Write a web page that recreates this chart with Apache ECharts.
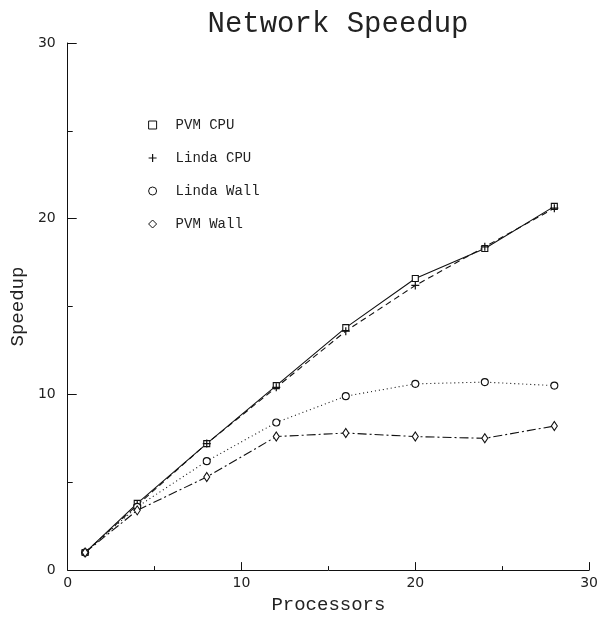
<!DOCTYPE html>
<html lang="en">
<head>
  <meta charset="UTF-8">
  <title>Network Speedup</title>
  <script src="https://cdn.jsdelivr.net/npm/echarts@6/dist/echarts.min.js"></script>
  <style>
    html, body { margin: 0; padding: 0; background: #fff; }
    #chart { width: 601px; height: 619px; }
  </style>
</head>
<body>
  <div id="chart"></div>
  <script>
    // processor counts and measured speedups
    const processors = [1, 4, 8, 12, 16, 20, 24, 28];
    const pvmCpu    = [1.0, 3.8, 7.2, 10.5, 13.8, 16.6, 18.3, 20.7];
    const lindaCpu  = [1.0, 3.7, 7.2, 10.4, 13.6, 16.2, 18.4, 20.6];
    const lindaWall = [1.0, 3.6, 6.2, 8.4, 9.9, 10.6, 10.7, 10.5];
    const pvmWall   = [1.0, 3.4, 5.3, 7.6, 7.8, 7.6, 7.5, 8.2];

    const plusPath = 'path://M0,5L10,5M5,0L5,10';

    const chart = echarts.init(document.getElementById('chart'));

    function pairs(ys) {
      return processors.map((x, i) => [x, ys[i]]);
    }

    function mk(name, ys, symbol, size, lineType) {
      return {
        name: name,
        type: 'line',
        data: pairs(ys),
        symbol: symbol,
        symbolSize: size,
        showSymbol: true,
        lineStyle: { color: '#111', width: 1.1, type: lineType },
        itemStyle: { color: '#fff', borderColor: '#111', borderWidth: 1.1 },
        emphasis: { disabled: true },
        z: 2
      };
    }

    const option = {
      animation: false,
      title: {
        text: 'Network Speedup',
        left: 333,
        top: 5,
        textAlign: 'center',
        textStyle: { fontFamily: 'Liberation Mono', fontWeight: 'normal', fontSize: 29, color: '#222' }
      },
      legend: {
        orient: 'vertical',
        left: 143,
        top: 113,
        itemGap: 19,
        itemWidth: 8,
        itemHeight: 8,
        textStyle: { fontFamily: 'Liberation Mono', fontSize: 14, color: '#222', padding: [0, 0, 0, 14] },
        data: [
          { name: 'PVM CPU', icon: 'rect', itemStyle: { color: '#fff', borderColor: '#111', borderWidth: 1 } },
          { name: 'Linda CPU', icon: plusPath, itemStyle: { color: '#111', borderColor: '#111', borderWidth: 1.2 } },
          { name: 'Linda Wall', icon: 'circle', itemStyle: { color: '#fff', borderColor: '#111', borderWidth: 1 } },
          { name: 'PVM Wall', icon: 'diamond', itemStyle: { color: '#fff', borderColor: '#111', borderWidth: 1 } }
        ]
      },
      grid: { left: 62, right: 8, top: 43, bottom: 43 },
      xAxis: {
        type: 'value',
        min: 0, max: 30, interval: 10,
        name: 'Processors',
        nameLocation: 'middle',
        nameGap: 24,
        nameTextStyle: { fontFamily: 'Liberation Mono', fontSize: 19, color: '#222' },
        axisLine: { lineStyle: { color: '#111', width: 1 } },
        axisTick: { inside: true, length: 8, lineStyle: { color: '#111' } },
        minorTick: { show: true, splitNumber: 2, length: 4, lineStyle: { color: '#111' } },
        splitLine: { show: false },
        axisLabel: { fontFamily: 'DejaVu Sans', fontSize: 14, color: '#222', margin: 6 }
      },
      yAxis: {
        type: 'value',
        min: 0, max: 30, interval: 10,
        name: 'Speedup',
        nameLocation: 'middle',
        nameGap: 40,
        nameTextStyle: { fontFamily: 'Liberation Mono', fontSize: 19, color: '#222' },
        axisLine: { lineStyle: { color: '#111', width: 1 } },
        axisTick: { inside: true, length: 9, lineStyle: { color: '#111' } },
        minorTick: { show: true, splitNumber: 2, length: 5, lineStyle: { color: '#111' } },
        splitLine: { show: false },
        axisLabel: { fontFamily: 'DejaVu Sans', fontSize: 14, color: '#222', margin: 12 }
      },
      series: [
        mk('PVM CPU', pvmCpu, 'rect', 6, 'solid'),
        Object.assign(mk('Linda CPU', lindaCpu, plusPath, 8, [6, 4]),
          { itemStyle: { color: '#111', borderColor: '#111', borderWidth: 1.2 } }),
        mk('Linda Wall', lindaWall, 'circle', 7, [1, 3]),
        mk('PVM Wall', pvmWall, 'diamond', [6, 9], [9, 3, 2, 3])
      ]
    };

    chart.setOption(option);
  </script>
</body>
</html>
